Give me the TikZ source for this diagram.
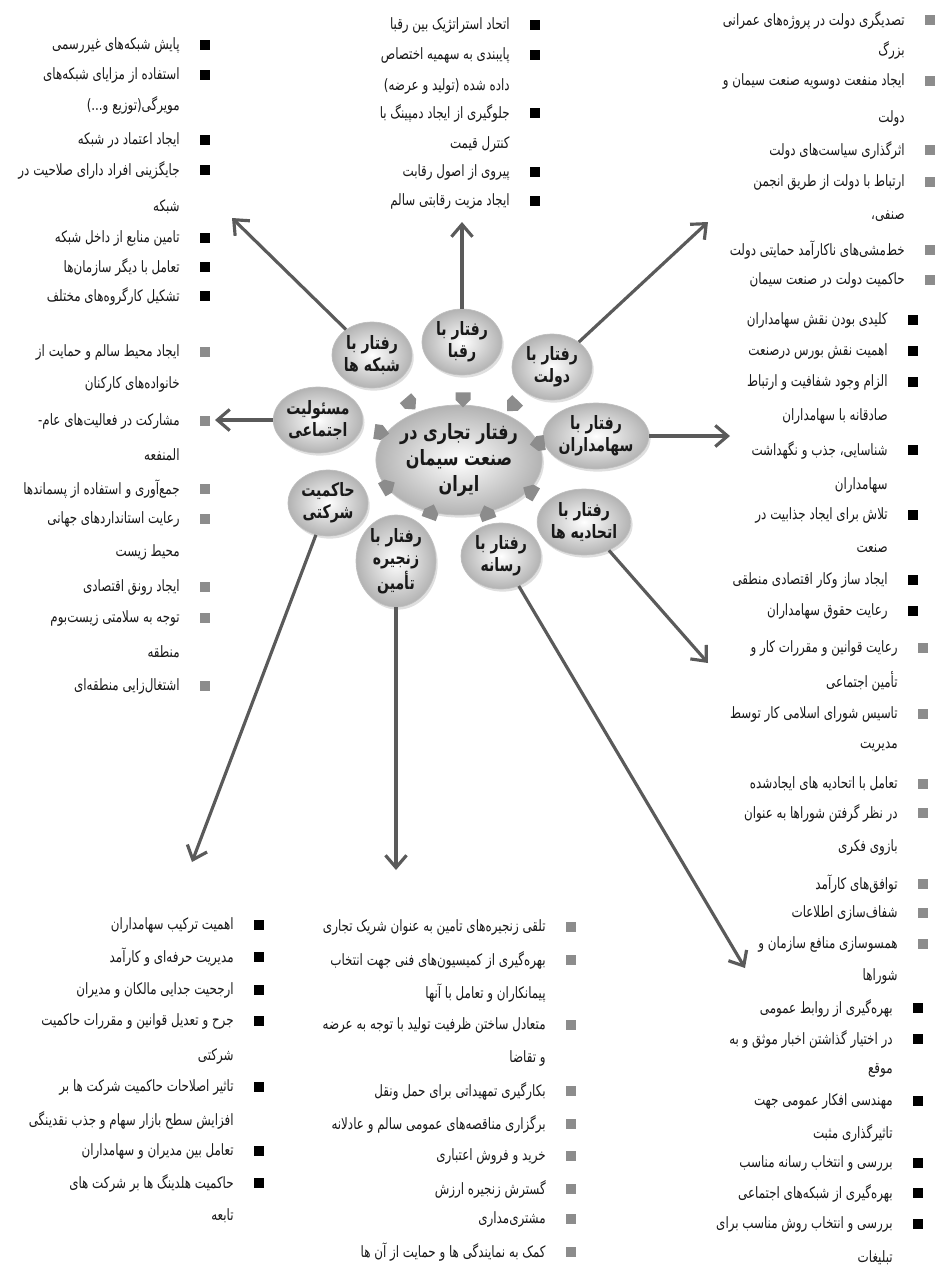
\documentclass[tikz,border=0pt]{standalone}
\usepackage{fontspec}
\newfontfamily\fa[Script=Arabic, FakeStretch=0.76]{DejaVu Sans}
\TeXXeTstate=1
\usetikzlibrary{arrows.meta,shapes.geometric,shapes.arrows,shadows}
\definecolor{linkgray}{RGB}{90,90,90}
\definecolor{pentgray}{RGB}{140,140,140}
\definecolor{bulgray}{RGB}{140,140,140}
\definecolor{txt}{RGB}{25,25,25}
\tikzset{
    topic/.style={ellipse, shade, inner color=white, outer color=gray!60, draw=gray!50,
        minimum width=1.6cm, minimum height=1.32cm, inner sep=0pt, align=center, text=txt,
        font=\fa\bfseries\fontsize{10.5}{12.5}\selectfont,
        drop shadow={opacity=0.25, shadow xshift=1pt, shadow yshift=-1.5pt}},
    hub/.style={topic, minimum width=2.84cm, minimum height=2.2cm,
        font=\fa\bfseries\fontsize{12}{15}\selectfont},
    pent/.style={single arrow, single arrow head extend=0pt, fill=pentgray,
        minimum height=0.3cm, minimum width=0.3cm, inner sep=0pt},
    link/.style={->,> = {Straight Barb[length=7pt,width=12pt]}, line width=1.8pt, draw=linkgray},
    cont/.style={anchor=east, inner sep=0pt, text=txt, font=\fa\fontsize{8.9}{10}\selectfont},
    itemb/.style={cont, label={[fill=black, minimum size=0.19cm, inner sep=0pt, xshift=0.4cm]east:{}}},
    itemg/.style={cont, label={[fill=bulgray, minimum size=0.19cm, inner sep=0pt, xshift=0.4cm]east:{}}},
}
\begin{document}
\begin{tikzpicture}[x=0.02cm,y=-0.02cm]
    \useasboundingbox (0,0) rectangle (938,1286);

    % centre and topics
    \node[hub] (hub) at (459,460) {\beginR رفتار تجاری در\endR\\\beginR صنعت سیمان\endR\\\beginR ایران\endR};
    \node[topic] (tnet) at (372,355) {\beginR رفتار با\endR\\\beginR شبکه ها\endR};
    \node[topic] (triv) at (462,342) {\beginR رفتار با\endR\\\beginR رقبا\endR};
    \node[topic] (tgov) at (552,367) {\beginR رفتار با\endR\\\beginR دولت\endR};
    \node[topic] (tsh) at (596,436) {\beginR رفتار با\endR\\\beginR سهامداران\endR};
    \node[topic] (tsoc) at (318,420) {\beginR مسئولیت\endR\\\beginR اجتماعی\endR};
    \node[topic] (tcg) at (328,503) {\beginR حاکمیت\endR\\\beginR شرکتی\endR};
    \node[topic] (tsup) at (396,561) {\beginR رفتار با\endR\\\beginR زنجیره\endR\\\beginR تأمین\endR};
    \node[topic] (tmed) at (501,556) {\beginR رفتار با\endR\\\beginR رسانه\endR};
    \node[topic] (tun) at (584,522) {\beginR رفتار با\endR\\\beginR اتحادیه ها\endR};

    % small arrows into the centre
    \node[pent, rotate=-49] (p1) at (408,401) {};
    \node[pent, rotate=-90] (p2) at (463,396) {};
    \node[pent, rotate=-134] (p3) at (515,403) {};
    \node[pent, rotate=-172] (p4) at (541,443) {};
    \node[pent, rotate=150] (p5) at (533,493) {};
    \node[pent, rotate=110] (p6) at (488,516) {};
    \node[pent, rotate=70] (p7) at (430,515) {};
    \node[pent, rotate=30] (p8) at (385,488) {};
    \node[pent, rotate=-8] (p9) at (378,432) {};

    % arrow ends
    \coordinate (anet) at (232,218);
    \coordinate (ariv) at (462,222);
    \coordinate (agov) at (708,222);
    \coordinate (ash) at (730,436);
    \coordinate (asoc) at (215,420);
    \coordinate (aun) at (708,663);
    \coordinate (amed) at (745,968);
    \coordinate (asup) at (396,870);
    \coordinate (acg) at (192,862);
    \draw[link] (tnet) -- (anet);
    \draw[link] (triv) -- (ariv);
    \draw[link] (tgov) -- (agov);
    \draw[link] (tsh) -- (ash);
    \draw[link] (tsoc) -- (asoc);
    \draw[link] (tun) -- (aun);
    \draw[link] (tmed) -- (amed);
    \draw[link] (tsup) -- (asup);
    \draw[link] (tcg) -- (acg);

    % networks
    \node[itemb] (net1) at (180,45) {\beginR پایش شبکه‌های غیررسمی\endR};
    \node[itemb] (net2) at (180,75) {\beginR استفاده از مزایای شبکه‌های\endR};
    \node[cont] (net3) at (180,105) {\beginR مویرگی(توزیع و...)\endR};
    \node[itemb] (net4) at (180,140) {\beginR ایجاد اعتماد در شبکه\endR};
    \node[itemb] (net5) at (180,170) {\beginR جایگزینی افراد دارای صلاحیت در\endR};
    \node[cont] (net6) at (180,207) {\beginR شبکه\endR};
    \node[itemb] (net7) at (180,238) {\beginR تامین منابع از داخل شبکه\endR};
    \node[itemb] (net8) at (180,267) {\beginR تعامل با دیگر سازمان‌ها\endR};
    \node[itemb] (net9) at (180,296) {\beginR تشکیل کارگروه‌های مختلف\endR};

    % rivals
    \node[itemb] (riv1) at (510,25) {\beginR اتحاد استراتژیک بین رقبا\endR};
    \node[itemb] (riv2) at (510,55) {\beginR پایبندی به سهمیه اختصاص\endR};
    \node[cont] (riv3) at (510,86) {\beginR داده شده (تولید و عرضه)\endR};
    \node[itemb] (riv4) at (510,113) {\beginR جلوگیری از ایجاد دمپینگ با\endR};
    \node[cont] (riv5) at (510,144) {\beginR کنترل قیمت\endR};
    \node[itemb] (riv6) at (510,172) {\beginR پیروی از اصول رقابت\endR};
    \node[itemb] (riv7) at (510,201) {\beginR ایجاد مزیت رقابتی سالم\endR};

    % government
    \node[itemg] (gov1) at (905,20) {\beginR تصدیگری دولت در پروژه‌های عمرانی\endR};
    \node[cont] (gov2) at (905,50) {\beginR بزرگ\endR};
    \node[itemg] (gov3) at (905,81) {\beginR ایجاد منفعت دوسویه صنعت سیمان و\endR};
    \node[cont] (gov4) at (905,118) {\beginR دولت\endR};
    \node[itemg] (gov5) at (905,150) {\beginR اثرگذاری سیاست‌های دولت\endR};
    \node[itemg] (gov6) at (905,182) {\beginR ارتباط با دولت از طریق انجمن\endR};
    \node[cont] (gov7) at (905,216) {\beginR صنفی،\endR};
    \node[itemg] (gov8) at (905,250) {\beginR خط‌مشی‌های ناکارآمد حمایتی دولت\endR};
    \node[itemg] (gov9) at (905,280) {\beginR حاکمیت دولت در صنعت سیمان\endR};

    % shareholders
    \node[itemb] (sh1) at (888,320) {\beginR کلیدی بودن نقش سهامداران\endR};
    \node[itemb] (sh2) at (888,351) {\beginR اهمیت نقش بورس درصنعت\endR};
    \node[itemb] (sh3) at (888,382) {\beginR الزام وجود شفافیت و ارتباط\endR};
    \node[cont] (sh4) at (888,416) {\beginR صادقانه با سهامداران\endR};
    \node[itemb] (sh5) at (888,450) {\beginR شناسایی، جذب و نگهداشت\endR};
    \node[cont] (sh6) at (888,485) {\beginR سهامداران\endR};
    \node[itemb] (sh7) at (888,515) {\beginR تلاش برای ایجاد جذابیت در\endR};
    \node[cont] (sh8) at (888,549) {\beginR صنعت\endR};
    \node[itemb] (sh9) at (888,580) {\beginR ایجاد ساز وکار اقتصادی منطقی\endR};
    \node[itemb] (sh10) at (888,611) {\beginR رعایت حقوق سهامداران\endR};

    % unions
    \node[itemg] (un1) at (898,648) {\beginR رعایت قوانین و مقررات کار و\endR};
    \node[cont] (un2) at (898,681) {\beginR تأمین اجتماعی\endR};
    \node[itemg] (un3) at (898,714) {\beginR تاسیس شورای اسلامی کار توسط\endR};
    \node[cont] (un4) at (898,747) {\beginR مدیریت\endR};
    \node[itemg] (un5) at (898,784) {\beginR تعامل با اتحادیه های ایجادشده\endR};
    \node[itemg] (un6) at (898,813) {\beginR در نظر گرفتن شوراها به عنوان\endR};
    \node[cont] (un7) at (898,847) {\beginR بازوی فکری\endR};
    \node[itemg] (un8) at (898,884) {\beginR توافق‌های کارآمد\endR};
    \node[itemg] (un9) at (898,913) {\beginR شفاف‌سازی اطلاعات\endR};
    \node[itemg] (un10) at (898,944) {\beginR همسوسازی منافع سازمان و\endR};
    \node[cont] (un11) at (898,976) {\beginR شوراها\endR};

    % media
    \node[itemb] (med1) at (893,1008) {\beginR بهره‌گیری از روابط عمومی\endR};
    \node[itemb] (med2) at (893,1039) {\beginR در اختیار گذاشتن اخبار موثق و به\endR};
    \node[cont] (med3) at (893,1070) {\beginR موقع\endR};
    \node[itemb] (med4) at (893,1101) {\beginR مهندسی افکار عمومی جهت\endR};
    \node[cont] (med5) at (893,1133) {\beginR تاثیرگذاری مثبت\endR};
    \node[itemb] (med6) at (893,1163) {\beginR بررسی و انتخاب رسانه مناسب\endR};
    \node[itemb] (med7) at (893,1193) {\beginR بهره‌گیری از شبکه‌های اجتماعی\endR};
    \node[itemb] (med8) at (893,1224) {\beginR بررسی و انتخاب روش مناسب برای\endR};
    \node[cont] (med9) at (893,1258) {\beginR تبلیغات\endR};

    % social responsibility
    \node[itemg] (soc1) at (180,352) {\beginR ایجاد محیط سالم و حمایت از\endR};
    \node[cont] (soc2) at (180,384) {\beginR خانواده‌های کارکنان\endR};
    \node[itemg] (soc3) at (180,421) {\beginR مشارکت در فعالیت‌های عام-\endR};
    \node[cont] (soc4) at (180,455) {\beginR المنفعه\endR};
    \node[itemg] (soc5) at (180,489) {\beginR جمع‌آوری و استفاده از پسماندها\endR};
    \node[itemg] (soc6) at (180,519) {\beginR رعایت استانداردهای جهانی\endR};
    \node[cont] (soc7) at (180,552) {\beginR محیط زیست\endR};
    \node[itemg] (soc8) at (180,587) {\beginR ایجاد رونق اقتصادی\endR};
    \node[itemg] (soc9) at (180,618) {\beginR توجه به سلامتی زیست‌بوم\endR};
    \node[cont] (soc10) at (180,652) {\beginR منطقه\endR};
    \node[itemg] (soc11) at (180,686) {\beginR اشتغال‌زایی منطقه‌ای\endR};

    % supply chain
    \node[itemg] (sup1) at (546,927) {\beginR تلقی زنجیره‌های تامین به عنوان شریک تجاری\endR};
    \node[itemg] (sup2) at (546,960) {\beginR بهره‌گیری از کمیسیون‌های فنی جهت انتخاب\endR};
    \node[cont] (sup3) at (546,993) {\beginR پیمانکاران و تعامل با آنها\endR};
    \node[itemg] (sup4) at (546,1025) {\beginR متعادل ساختن ظرفیت تولید با توجه به عرضه\endR};
    \node[cont] (sup5) at (546,1058) {\beginR و تقاضا\endR};
    \node[itemg] (sup6) at (546,1091) {\beginR بکارگیری تمهیداتی برای حمل ونقل\endR};
    \node[itemg] (sup7) at (546,1124) {\beginR برگزاری مناقصه‌های عمومی سالم و عادلانه\endR};
    \node[itemg] (sup8) at (546,1156) {\beginR خرید و فروش اعتباری\endR};
    \node[itemg] (sup9) at (546,1189) {\beginR گسترش زنجیره ارزش\endR};
    \node[itemg] (sup10) at (546,1219) {\beginR مشتری‌مداری\endR};
    \node[itemg] (sup11) at (546,1252) {\beginR کمک به نمایندگی ها و حمایت از آن ها\endR};

    % corporate governance
    \node[itemb] (cg1) at (234,925) {\beginR اهمیت ترکیب سهامداران\endR};
    \node[itemb] (cg2) at (234,957) {\beginR مدیریت حرفه‌ای و کارآمد\endR};
    \node[itemb] (cg3) at (234,990) {\beginR ارجحیت جدایی مالکان و مدیران\endR};
    \node[itemb] (cg4) at (234,1021) {\beginR جرح و تعدیل قوانین و مقررات حاکمیت\endR};
    \node[cont] (cg5) at (234,1056) {\beginR شرکتی\endR};
    \node[itemb] (cg6) at (234,1087) {\beginR تاثیر اصلاحات حاکمیت شرکت ها بر\endR};
    \node[cont] (cg7) at (234,1120) {\beginR افزایش سطح بازار سهام و جذب نقدینگی\endR};
    \node[itemb] (cg8) at (234,1151) {\beginR تعامل بین مدیران و سهامداران\endR};
    \node[itemb] (cg9) at (234,1183) {\beginR حاکمیت هلدینگ ها بر شرکت های\endR};
    \node[cont] (cg10) at (234,1216) {\beginR تابعه\endR};
\end{tikzpicture}
\end{document}
